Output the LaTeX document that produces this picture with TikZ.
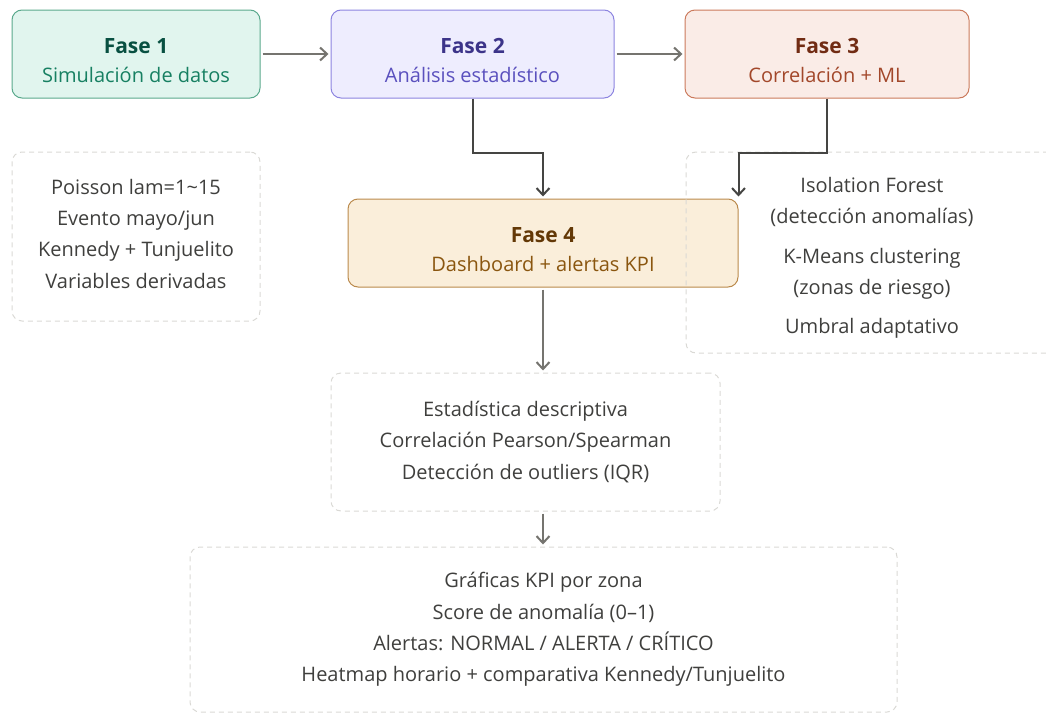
\documentclass[tikz,border=0pt]{standalone}
\usepackage{fontspec}
\setmainfont{Open Sans}
\usetikzlibrary{arrows.meta}

\definecolor{unofill}{HTML}{E1F5EE}
\definecolor{unoline}{HTML}{5AA98C}
\definecolor{unotit}{HTML}{085041}
\definecolor{unosub}{HTML}{178062}
\definecolor{dosfill}{HTML}{EEEDFE}
\definecolor{dosline}{HTML}{8C84E0}
\definecolor{dostit}{HTML}{3C3489}
\definecolor{dossub}{HTML}{5A50BE}
\definecolor{tresfill}{HTML}{FAECE7}
\definecolor{tresline}{HTML}{CB7A5C}
\definecolor{trestit}{HTML}{712B13}
\definecolor{tressub}{HTML}{A2472A}
\definecolor{cuatrofill}{HTML}{FAEEDA}
\definecolor{cuatroline}{HTML}{BA8A4C}
\definecolor{cuatrotit}{HTML}{633806}
\definecolor{cuatrosub}{HTML}{8A560F}
\definecolor{dashgray}{HTML}{DAD9D5}
\definecolor{notetext}{HTML}{3F3F3D}
\definecolor{arrowgray}{HTML}{75746F}
\definecolor{elbowgray}{HTML}{454543}

% titulo de fase, con un poco de aire arriba
\newcommand{\fasetit}[2]{\rule{0pt}{29pt}\textcolor{#1}{\fontsize{21}{29}\selectfont\bfseries #2}}

\begin{document}
\begin{tikzpicture}[x=1pt,y=-1pt,line width=1pt,
  fase/.style={rounded corners=10pt,minimum height=88pt,align=center,inner sep=0pt,
    font=\fontsize{20}{29}\selectfont},
  nota/.style={draw=dashgray,dash pattern=on 5pt off 4pt,line width=1pt,rounded corners=10pt,
    align=center,text=notetext,inner sep=0pt,font=\fontsize{20}{31.3}\selectfont},
  flecha/.style={draw=arrowgray,line width=2pt,-{Straight Barb[length=7pt,width=13pt]},
    shorten <=2pt,shorten >=2pt},
  codo/.style={draw=elbowgray,line width=2pt,-{Straight Barb[length=7pt,width=13pt]},
    shorten >=2pt}]
\useasboundingbox (0,0) rectangle (1046,715);
\clip (0,0) rectangle (1046,715);
% fases
\node[fase,draw=unoline,fill=unofill,minimum width=248pt] (f1) at (136,54)
  {\fasetit{unotit}{Fase 1}\\\textcolor{unosub}{Simulación de datos}};
\node[fase,draw=dosline,fill=dosfill,minimum width=283pt] (f2) at (472.5,54)
  {\fasetit{dostit}{Fase 2}\\\textcolor{dossub}{Análisis estadístico}};
\node[fase,draw=tresline,fill=tresfill,minimum width=284pt] (f3) at (827,54)
  {\fasetit{trestit}{Fase 3}\\\textcolor{tressub}{Correlación + ML}};
\node[fase,draw=cuatroline,fill=cuatrofill,minimum width=390pt] (f4) at (543,243)
  {\fasetit{cuatrotit}{Fase 4}\\\textcolor{cuatrosub}{Dashboard + alertas KPI}};
% notas
\node[nota,minimum width=248pt,minimum height=169pt] (sim) at (136,236.5)
  {Poisson lam=1\textasciitilde15\\Evento mayo/jun\\Kennedy + Tunjuelito\\Variables derivadas\rule[-6pt]{0pt}{6pt}};
\node[nota,minimum width=372pt,minimum height=201pt] (ml) at (872,252.5)
  {\rule{0pt}{25pt}Isolation Forest\\(detección anomalías)\\[9pt]K-Means clustering\\(zonas de riesgo)\\[7pt]Umbral adaptativo};
\node[nota,minimum width=389pt,minimum height=138pt] (est) at (525.5,442)
  {Estadística descriptiva\\Correlación Pearson/Spearman\\Detección de outliers (IQR)};
\node[nota,minimum width=707pt,minimum height=165pt] (dash) at (543.5,629.5)
  {Gráficas KPI por zona\\Score de anomalía (0–1)\\Alertas: NORMAL / ALERTA / CRÍTICO\\Heatmap horario + comparativa Kennedy/Tunjuelito};
% conectores
\draw[flecha] (f1) -- (f2);
\draw[flecha] (f2) -- (f3);
\draw[codo] (f2.south) -- ++(0,54) -| (f4.north);
\draw[codo] (f3.south) -- ++(0,54) -| (f4.north east);
\draw[flecha] (f4.south) -- (f4.south |- est.north);
\draw[flecha] (f4.south |- est.south) -- (f4.south |- dash.north);
\end{tikzpicture}
\end{document}
